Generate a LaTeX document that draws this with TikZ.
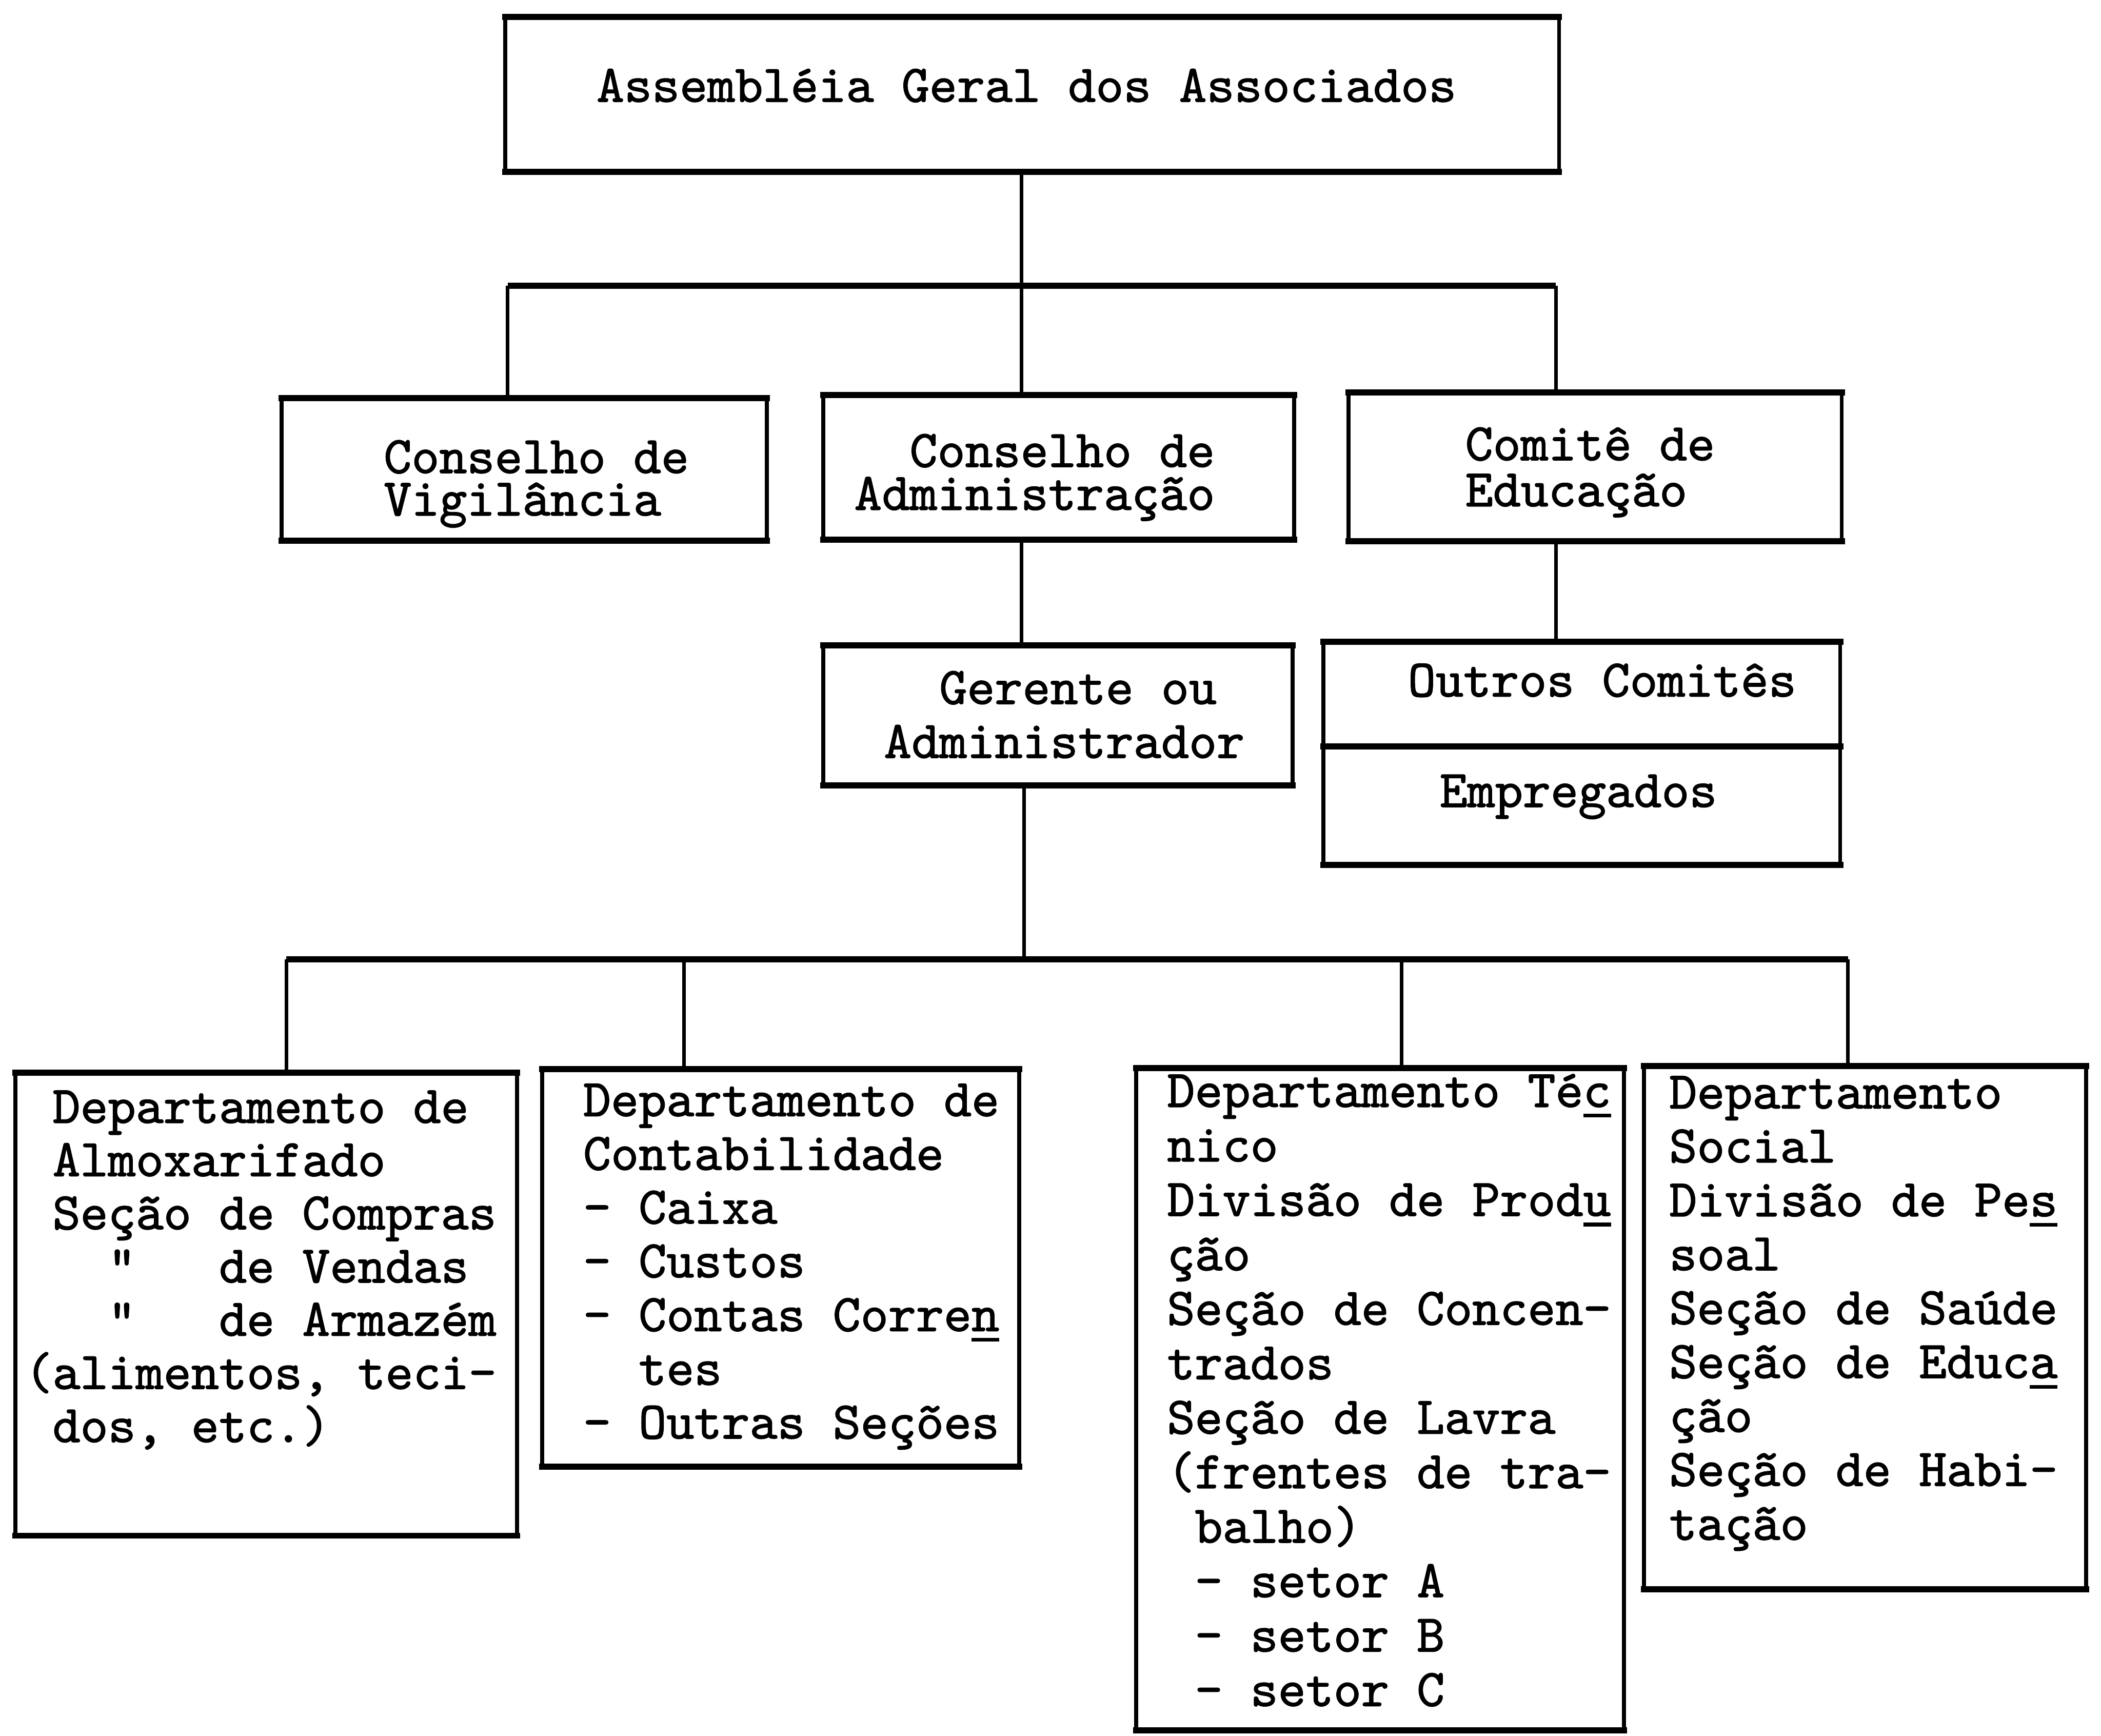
\documentclass[tikz,border=0pt]{standalone}
\usepackage{fontspec}
\newfontfamily\tw[FakeBold=1.5]{lmmono10-regular.otf}
\newcommand\tul[1]{\rlap{\rule[-0.2em]{0.525em}{0.07em}}#1}
\begin{document}
\frenchspacing
\begin{tikzpicture}[
  box/.style={draw, line width=2.2pt, inner sep=0pt, outer sep=0pt},
  hedge/.style={line width=3.4pt, line cap=rect},
  link/.style={line width=2pt},
  bus/.style={line width=3.4pt},
  txt/.style={anchor=base west, inner sep=0pt, align=left, font=\fontsize{29.4}{#1}\selectfont\tw},
  txt/.default=30]
\useasboundingbox (0,0) rectangle (41.09,-33.94);
%
\node[box, minimum width=20.61cm, minimum height=3.03cm] (ag) at (20.185,-1.845) {};
\node[box, minimum width=9.49cm, minimum height=2.79cm] (vig) at (10.255,-9.175) {};
\node[box, minimum width=9.21cm, minimum height=2.83cm] (adm) at (20.705,-9.135) {};
\node[box, minimum width=9.65cm, minimum height=2.91cm] (edu) at (31.195,-9.125) {};
\node[box, minimum width=9.18cm, minimum height=2.74cm] (ger) at (20.69,-13.99) {};
\node[box, minimum width=10.11cm, minimum height=4.36cm] (out) at (30.935,-14.73) {};
\node[box, minimum width=9.81cm, minimum height=9.05cm] (d1) at (5.205,-25.505) {};
\node[box, minimum width=9.33cm, minimum height=7.77cm] (d2) at (15.265,-24.795) {};
\node[box, minimum width=9.54cm, minimum height=12.95cm] (d3) at (26.99,-27.365) {};
\node[box, minimum width=8.65cm, minimum height=10.23cm] (d4) at (36.475,-25.965) {};
\foreach \b in {ag,vig,adm,edu,ger,out,d1,d2,d3,d4}
  \draw[hedge] (\b.north west) -- (\b.north east) (\b.south west) -- (\b.south east);
%
% multi-line texts sit on the baseline of their last line
\node[txt] (agt) at (11.66,-1.99) {Assembléia Geral dos Associados};
\node[txt=23.6] (vigt) at (7.50,-10.08) {Conselho de\\Vigilância};
\node[txt=23.9] (admt) at (16.70,-9.97) {~~Conselho de\\Administração};
\node[txt=25.6] (edut) at (28.65,-9.90) {Comitê de\\Educação};
\node[txt] (gert) at (17.28,-14.82) {~~Gerente ou\\Administrador};
\node[txt] (outt) at (27.53,-13.62) {Outros Comitês};
\node[txt] (empt) at (28.15,-15.78) {Empregados};
\node[txt=29.6] (d1t) at (0.48,-28.20) {~Departamento de\\~Almoxarifado\\~Seção de Compras\\~~~"~~~de Vendas\\~~~"~~~de Armazém\\(alimentos, teci-\\~dos, etc.)};
\node[txt=29.9] (d2t) at (11.40,-28.13) {Departamento de\\Contabilidade\\- Caixa\\- Custos\\- Contas Corre\tul{n}\\~~tes\\- Outras Seções};
\node[txt=30.3] (d3t) at (22.82,-33.36) {Departamento Té\tul{c}\\nico\\Divisão de Prod\tul{u}\\ção\\Seção de Concen-\\trados\\Seção de Lavra\\(frentes de tra-\\~balho)\\~- setor A\\~- setor B\\~- setor C};
\node[txt=30] (d4t) at (32.64,-30.11) {Departamento\\Social\\Divisão de Pe\tul{s}\\soal\\Seção de Saúde\\Seção de Educ\tul{a}\\ção\\Seção de Habi-\\tação};
%
\coordinate (trunk) at (19.98,-5.59);
\coordinate (ja) at (9.93,-5.59);
\coordinate (jb) at (30.43,-5.59);
\coordinate (trunk2) at (20.03,-18.76);
\coordinate (jc) at (5.60,-18.76);
\coordinate (jd) at (13.38,-18.76);
\coordinate (je) at (27.41,-18.76);
\coordinate (jf) at (36.14,-18.76);
\coordinate (mid) at (0,-14.60);
\draw[link] (ag.south -| trunk) -- (trunk) -- (trunk |- adm.north);
\draw[link] (adm.south -| trunk) -- (ger.north -| trunk);
\draw[link] (ja) -- (ja |- vig.north);
\draw[link] (jb) -- (jb |- edu.north);
\draw[link] (edu.south -| jb) -- (out.north -| jb);
\draw[bus] (ja) -- (jb);
\draw[hedge] (out.west |- mid) -- (out.east |- mid);
\draw[link] (ger.south -| trunk2) -- (trunk2);
\draw[bus] (jc) -- (jf);
\foreach \j/\d in {jc/d1,jd/d2,je/d3,jf/d4}
  \draw[link] (\j) -- (\j |- \d.north);
\end{tikzpicture}
\end{document}
